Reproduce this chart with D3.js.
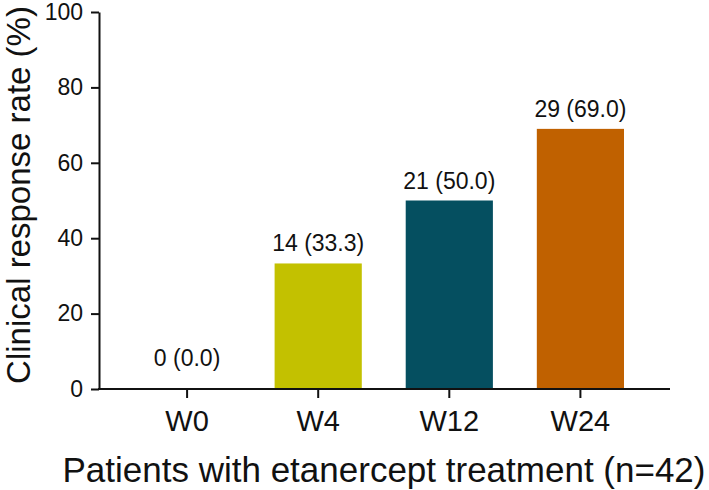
<!DOCTYPE html>
<html>
<head>
<meta charset="utf-8">
<script src="https://cdn.jsdelivr.net/npm/d3@7"></script>
<style>
  body { margin: 0; background: #fff; }
  svg text { font-family: "Liberation Sans", Arial, sans-serif; fill: #111; }
</style>
</head>
<body>
<div id="chart"></div>
<script>
// Data
const categories = ['W0', 'W4', 'W12', 'W24'];
const rates = [0, 33.3, 50.0, 69.0];
const counts = [0, 14, 21, 29];
const barColors = ['#c3c100', '#c3c100', '#054f60', '#c06100'];
const yTicks = [0, 20, 40, 60, 80, 100];

const width = 709, height = 490;
const axisLeft = 99, axisRight = 670;
const yTop = 12, yBottom = 389;
const fontFam = '"Liberation Sans", Arial, sans-serif';

const svg = d3.select('#chart').append('svg')
    .attr('width', width)
    .attr('height', height);

const x = d3.scaleBand()
    .domain(categories)
    .range([143.5, 624])
    .paddingInner(0.335)
    .paddingOuter(0);

const y = d3.scaleLinear()
    .domain([0, 100])
    .range([yBottom, yTop]);

// Bars
svg.selectAll('.bar')
    .data(categories)
    .enter().append('rect')
    .attr('class', 'bar')
    .attr('x', d => x(d))
    .attr('width', x.bandwidth())
    .attr('y', (d, i) => y(rates[i]))
    .attr('height', (d, i) => y(0) - y(rates[i]))
    .attr('fill', (d, i) => barColors[i]);

// Value labels (the empty bar's label sits a bit higher)
svg.selectAll('.val')
    .data(categories)
    .enter().append('text')
    .attr('class', 'val')
    .attr('x', d => x(d) + x.bandwidth() / 2)
    .attr('y', (d, i) => Math.min(y(rates[i]) - 12, y(0) - 23))
    .attr('text-anchor', 'middle')
    .attr('font-size', 23)
    .text((d, i) => `${counts[i]} (${rates[i].toFixed(1)})`);

// Y axis
const yAxis = svg.append('g')
    .attr('transform', `translate(${axisLeft},0)`)
    .call(d3.axisLeft(y).tickValues(yTicks).tickSize(8).tickPadding(8).tickSizeOuter(0));
yAxis.select('.domain').attr('stroke', '#111').attr('stroke-width', 2);
yAxis.selectAll('.tick line').attr('stroke', '#111').attr('stroke-width', 2);
yAxis.selectAll('.tick text').attr('font-size', 23).attr('font-family', fontFam).attr('fill', '#111');

// X axis
const xAxisG = svg.append('g')
    .attr('transform', `translate(0,${yBottom})`)
    .call(d3.axisBottom(x).tickSize(9).tickPadding(12).tickSizeOuter(0));
xAxisG.select('.domain').remove();
xAxisG.append('line')
    .attr('x1', axisLeft - 1).attr('x2', axisRight)
    .attr('stroke', '#111').attr('stroke-width', 2);
xAxisG.selectAll('.tick line').attr('stroke', '#111').attr('stroke-width', 2);
xAxisG.selectAll('.tick text').attr('font-size', 29).attr('font-family', fontFam).attr('fill', '#111');

// Axis titles
svg.append('text')
    .attr('x', 384)
    .attr('y', 482)
    .attr('text-anchor', 'middle')
    .attr('font-size', 35)
    .text('Patients with etanercept treatment (n=42)');

svg.append('text')
    .attr('transform', `translate(30,195) rotate(-90)`)
    .attr('text-anchor', 'middle')
    .attr('font-size', 33)
    .text('Clinical response rate (%)');
</script>
</body>
</html>
